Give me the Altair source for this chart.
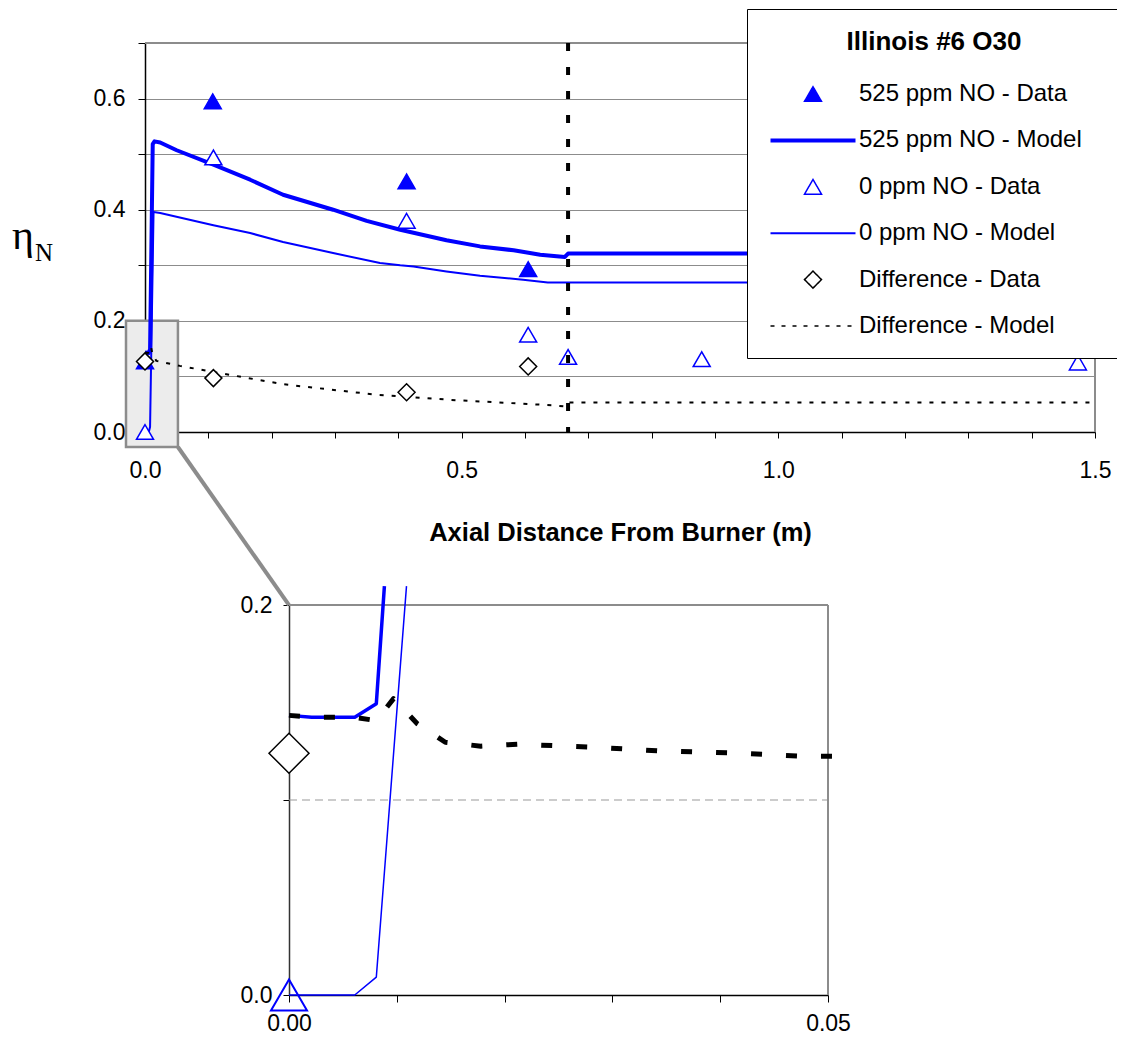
import altair as alt
import pandas as pd

# ---------------- legend order / series ----------------
series_names = ["525 ppm NO - Data", "525 ppm NO - Model", "0 ppm NO - Data",
                "0 ppm NO - Model", "Difference - Data", "Difference - Model"]
LINE_SYM = "M-5,0L5,0"
series_shape = ["triangle-up", LINE_SYM, "triangle-up", LINE_SYM, "diamond", LINE_SYM]
series_fill = ["#0000ff", "transparent", "white", "transparent", "white", "transparent"]
series_stroke = ["#0000ff", "#0000ff", "#0000ff", "#0000ff", "#000000", "#000000"]

# ---------------- main chart data ----------------
no525_data_x = [0.0, 0.107, 0.413, 0.605]
no525_data_y = [0.127, 0.595, 0.451, 0.293]
no0_data_x = [0.0, 0.108, 0.413, 0.605, 0.668, 0.879, 1.473]
no0_data_y = [0.0, 0.494, 0.380, 0.175, 0.135, 0.131, 0.125]
diff_data_x = [0.0, 0.108, 0.413, 0.605]
diff_data_y = [0.127, 0.097, 0.0715, 0.118]

no525_model_x = [0.0, 0.006, 0.008, 0.0122, 0.015, 0.024, 0.05, 0.108, 0.166, 0.218,
                 0.297, 0.350, 0.403, 0.476, 0.529, 0.582, 0.624, 0.663, 0.668, 1.5]
no525_model_y = [0.143, 0.142, 0.149, 0.518, 0.523, 0.521, 0.507, 0.481, 0.454, 0.427,
                 0.400, 0.380, 0.364, 0.345, 0.334, 0.327, 0.319, 0.315, 0.321, 0.321]
no0_model_x = [0.0, 0.006, 0.008, 0.0135, 0.024, 0.108, 0.166, 0.218, 0.297, 0.371,
               0.403, 0.424, 0.476, 0.529, 0.597, 0.636, 1.5]
no0_model_y = [0.0, 0.0, 0.009, 0.396, 0.394, 0.372, 0.358, 0.342, 0.322, 0.304,
               0.300, 0.298, 0.289, 0.281, 0.274, 0.269, 0.269]
diff_model_x = [0.0, 0.006, 0.008, 0.0097, 0.012, 0.018, 0.055, 0.108, 0.218, 0.366,
                0.494, 0.645, 0.663, 0.668, 1.5]
diff_model_y = [0.143, 0.142, 0.141, 0.152, 0.139, 0.128, 0.119, 0.108, 0.086, 0.067,
                0.057, 0.048, 0.046, 0.053, 0.053]

flame_end_x = [0.668]  # vertical dashed marker

# ---------------- inset (zoom 0 - 0.05 m) data ----------------
ins_525_model_x = [0.0, 0.0021, 0.0061, 0.0081, 0.00885]
ins_525_model_y = [0.1434, 0.1424, 0.1424, 0.1494, 0.2097]
ins_0_model_x = [0.0, 0.0061, 0.0081, 0.0109]
ins_0_model_y = [0.0, 0.0, 0.0092, 0.2097]
ins_diff_model_x = [0.0, 0.0021, 0.0061, 0.0081, 0.0097, 0.0119, 0.0145, 0.0178, 0.0212,
                    0.0278, 0.0343, 0.0409, 0.0475, 0.0519]
ins_diff_model_y = [0.1434, 0.1424, 0.1424, 0.1407, 0.152, 0.1391, 0.1296, 0.1276, 0.1286,
                    0.1272, 0.1252, 0.1242, 0.1225, 0.1225]
ins_0_data_x, ins_0_data_y = [0.0], [0.0]
ins_diff_data_x, ins_diff_data_y = [0.0], [0.124]

# ---------------- tables ----------------
points_df = pd.concat([
    pd.DataFrame({"x": no525_data_x, "y": no525_data_y, "series": series_names[0]}),
    pd.DataFrame({"x": no0_data_x, "y": no0_data_y, "series": series_names[2]}),
    pd.DataFrame({"x": diff_data_x, "y": diff_data_y, "series": series_names[4]}),
], ignore_index=True)
m525_df = pd.DataFrame({"x": no525_model_x, "y": no525_model_y, "series": series_names[1]})
m0_df = pd.DataFrame({"x": no0_model_x, "y": no0_model_y, "series": series_names[3]})
mdiff_df = pd.DataFrame({"x": diff_model_x, "y": diff_model_y, "series": series_names[5]})

FONT = "Liberation Sans"
GRAY = "#8c8c8c"

main_x = alt.Scale(domain=[0, 1.5], range=[0, 950], nice=False, zero=False)
main_y = alt.Scale(domain=[0, 0.7], range=[389, 0], nice=False, zero=False)
ins_x = alt.Scale(domain=[0, 0.05], range=[144, 683], nice=False, zero=False)
ins_y = alt.Scale(domain=[0, 0.2], range=[952, 562], nice=False, zero=False)

PAD = "\u00a0" * 3 + "\u200b"
LEG = alt.Legend(
    title="Illinois #6 O30", orient="none", legendX=602, legendY=-34, direction="vertical",
    fillColor="white", strokeColor="black", padding=20,
    titleFont=FONT, titleFontSize=26, titleFontWeight="bold", titleColor="black",
    titleAnchor="middle", titlePadding=27,
    labelFont=FONT, labelFontSize=24, labelColor="black",
    symbolOffset=34, labelOffset=34, labelLimit=0,
    symbolSize=289, symbolOpacity=1, rowPadding=22.4,
    symbolStrokeWidth={"expr": "datum.value == '525 ppm NO - Model' ? 4 : (datum.value == '0 ppm NO - Model' ? 2 : 1.5)"},
    symbolDash={"expr": "datum.value == 'Difference - Model' ? [4, 7] : [1, 0]"},
    labelExpr="datum.label + '" + PAD + "'",
)

def stroke_enc():
    return alt.Stroke("series:N", scale=alt.Scale(domain=series_names, range=series_stroke), legend=LEG)

# ---------------- main layers ----------------
highlight = alt.Chart(pd.DataFrame({"x": [-0.03], "x2": [0.052], "y": [-0.027], "y2": [0.2]})).mark_rect(
    fill="#ececec", stroke=GRAY, strokeWidth=2.5
).encode(
    x=alt.X("x:Q", scale=main_x, axis=None), x2="x2:Q",
    y=alt.Y("y:Q", scale=main_y, axis=alt.Axis(
        orient="left", values=[round(i * 0.1, 1) for i in range(8)],
        labelExpr="(round(datum.value * 10) % 2 == 0) ? format(datum.value, '.1f') : ''",
        title=None, labelFont=FONT, labelFontSize=23, labelColor="black", labelPadding=13,
        labelFlush=False, labelOverlap=False,
        tickSize=7, tickColor="black", domainColor="black", domainWidth=1.5,
        grid=True, gridColor=GRAY, gridWidth=1)),
    y2="y2:Q",
)
connector = alt.Chart(pd.DataFrame({"x": [0.052], "x2": [0.2274], "y": [-0.027], "y2": [-0.3117]})).mark_rule(
    stroke=GRAY, strokeWidth=4
).encode(
    x=alt.X("x:Q", scale=main_x, axis=alt.Axis(
        orient="bottom", offset=-563,
        values=[round(i * 0.1, 1) for i in range(16)],
        labelExpr="(round(datum.value * 10) % 5 == 0) ? format(datum.value, '.1f') : ''",
        title="Axial Distance From Burner (m)", titleFont=FONT, titleFontSize=25.5,
        titleFontWeight="bold", titleColor="black", titlePadding=38,
        labelFont=FONT, labelFontSize=23, labelColor="black", labelPadding=21,
        labelFlush=False, labelOverlap=False,
        tickSize=6, tickColor="black", tickWidth=1, domainColor="black", domainWidth=1.5,
        grid=False)),
    x2="x2:Q",
    y=alt.Y("y:Q", scale=main_y, axis=None), y2="y2:Q",
)
border_right = alt.Chart(pd.DataFrame({"x": [1.5], "y": [0.0], "y2": [0.7]})).mark_rule(
    stroke=GRAY, strokeWidth=2
).encode(
    x=alt.X("x:Q", scale=main_x, axis=None),
    y=alt.Y("y:Q", scale=main_y, axis=None), y2="y2:Q",
)
border_top = alt.Chart(pd.DataFrame({"x": [0.0], "x2": [1.5], "y": [0.7]})).mark_rule(
    stroke=GRAY, strokeWidth=2
).encode(
    x=alt.X("x:Q", scale=main_x, axis=None), x2="x2:Q",
    y=alt.Y("y:Q", scale=main_y, axis=None),
)

def model_line(df, width, dash=None):
    kw = dict(strokeWidth=width, strokeJoin="round")
    if dash:
        kw["strokeDash"] = dash
    return alt.Chart(df).mark_line(**kw).encode(
        x=alt.X("x:Q", scale=main_x, axis=None),
        y=alt.Y("y:Q", scale=main_y, axis=None),
        stroke=stroke_enc(),
    )

l525 = model_line(m525_df, 4)
l0 = model_line(m0_df, 2)
ldiff = model_line(mdiff_df, 2, [4, 8])

points = alt.Chart(points_df).mark_point(opacity=1, size=289, strokeWidth=1.5, filled=False).encode(
    x=alt.X("x:Q", scale=main_x, axis=None),
    y=alt.Y("y:Q", scale=main_y, axis=None),
    shape=alt.Shape("series:N", scale=alt.Scale(domain=series_names, range=series_shape), legend=LEG),
    fill=alt.Fill("series:N", scale=alt.Scale(domain=series_names, range=series_fill), legend=LEG),
    stroke=stroke_enc(),
)

vrule = alt.Chart(pd.DataFrame({"x": flame_end_x, "y": [0.7], "y2": [0.0]})).mark_rule(
    stroke="black", strokeWidth=4, strokeDash=[8, 16]
).encode(
    x=alt.X("x:Q", scale=main_x, axis=None),
    y=alt.Y("y:Q", scale=main_y, axis=None), y2="y2:Q",
)

eta = alt.Chart(pd.DataFrame({"t": ["η"]})).mark_text(
    font="Liberation Serif", fontSize=42, align="left", baseline="alphabetic", color="black"
).encode(text="t:N", x=alt.value(-133), y=alt.value(206))
eta_sub = alt.Chart(pd.DataFrame({"t": ["N"]})).mark_text(
    font="Liberation Serif", fontSize=25, align="left", baseline="alphabetic", color="black"
).encode(text="t:N", x=alt.value(-110), y=alt.value(218))

# ---------------- inset layers ----------------
ins_grid = alt.Chart(pd.DataFrame({"x": [0.0], "x2": [0.05], "y": [0.1]})).mark_rule(
    stroke="#999999", strokeWidth=1, strokeDash=[8, 5]
).encode(
    x=alt.X("x:Q", scale=ins_x, axis=alt.Axis(
        orient="bottom", offset=0, values=[0.0, 0.01, 0.02, 0.03, 0.04, 0.05],
        labelExpr="(round(datum.value * 100) % 5 == 0) ? format(datum.value, '.2f') : ''",
        title=None, labelFont=FONT, labelFontSize=23, labelColor="black", labelPadding=10,
        labelFlush=False, labelOverlap=False,
        tickSize=7, tickColor="black", domainColor="black", domainWidth=1.5, grid=False)),
    x2="x2:Q",
    y=alt.Y("y:Q", scale=ins_y, axis=alt.Axis(
        orient="left", offset=-144, values=[0.0, 0.1, 0.2],
        labelExpr="(round(datum.value * 10) % 2 == 0) ? format(datum.value, '.1f') : ''",
        title=None, labelFont=FONT, labelFontSize=23, labelColor="black", labelPadding=11,
        labelFlush=False, labelOverlap=False,
        tickSize=6, tickColor="black", domainColor="#333333", domainWidth=1.5, grid=False)),
)
ins_top = alt.Chart(pd.DataFrame({"x": [0.0], "x2": [0.05], "y": [0.2]})).mark_rule(
    stroke=GRAY, strokeWidth=2
).encode(x=alt.X("x:Q", scale=ins_x, axis=None), x2="x2:Q", y=alt.Y("y:Q", scale=ins_y, axis=None))
ins_right = alt.Chart(pd.DataFrame({"x": [0.05], "y": [0.0], "y2": [0.2]})).mark_rule(
    stroke=GRAY, strokeWidth=2
).encode(x=alt.X("x:Q", scale=ins_x, axis=None), y=alt.Y("y:Q", scale=ins_y, axis=None), y2="y2:Q")

def ins_line(xs, ys, color, width, dash=None):
    kw = dict(stroke=color, strokeWidth=width, strokeJoin="round")
    if dash:
        kw["strokeDash"] = dash
    return alt.Chart(pd.DataFrame({"x": xs, "y": ys})).mark_line(**kw).encode(
        x=alt.X("x:Q", scale=ins_x, axis=None), y=alt.Y("y:Q", scale=ins_y, axis=None))

il0 = ins_line(ins_0_model_x, ins_0_model_y, "#0000ff", 1.5)
il525 = ins_line(ins_525_model_x, ins_525_model_y, "#0000ff", 3.5)
ildiff = ins_line(ins_diff_model_x, ins_diff_model_y, "black", 5, [11, 24])

ipt0 = alt.Chart(pd.DataFrame({"x": ins_0_data_x, "y": ins_0_data_y})).mark_point(
    shape="triangle-up", size=1300, stroke="#0000ff", strokeWidth=2, fill="transparent", opacity=1
).encode(x=alt.X("x:Q", scale=ins_x, axis=None), y=alt.Y("y:Q", scale=ins_y, axis=None))
iptd = alt.Chart(pd.DataFrame({"x": ins_diff_data_x, "y": ins_diff_data_y})).mark_point(
    shape="diamond", size=1600, stroke="black", strokeWidth=1.5, fill="white", opacity=1
).encode(x=alt.X("x:Q", scale=ins_x, axis=None), y=alt.Y("y:Q", scale=ins_y, axis=None))

chart = alt.layer(
    highlight, connector, border_right, border_top, l0, l525, ldiff, points, vrule, eta, eta_sub,
    ins_grid, ins_top, ins_right, il0, il525, ildiff, iptd, ipt0,
).resolve_scale(
    x="independent", y="independent"
).properties(
    width=950, height=952,
    autosize=alt.AutoSizeParams(type="none"),
    padding={"left": 137, "top": 35, "right": 22, "bottom": 41},
    background="white",
).configure_view(stroke=None)

chart.save("out.html", embed_options={"renderer": "svg", "actions": False})
